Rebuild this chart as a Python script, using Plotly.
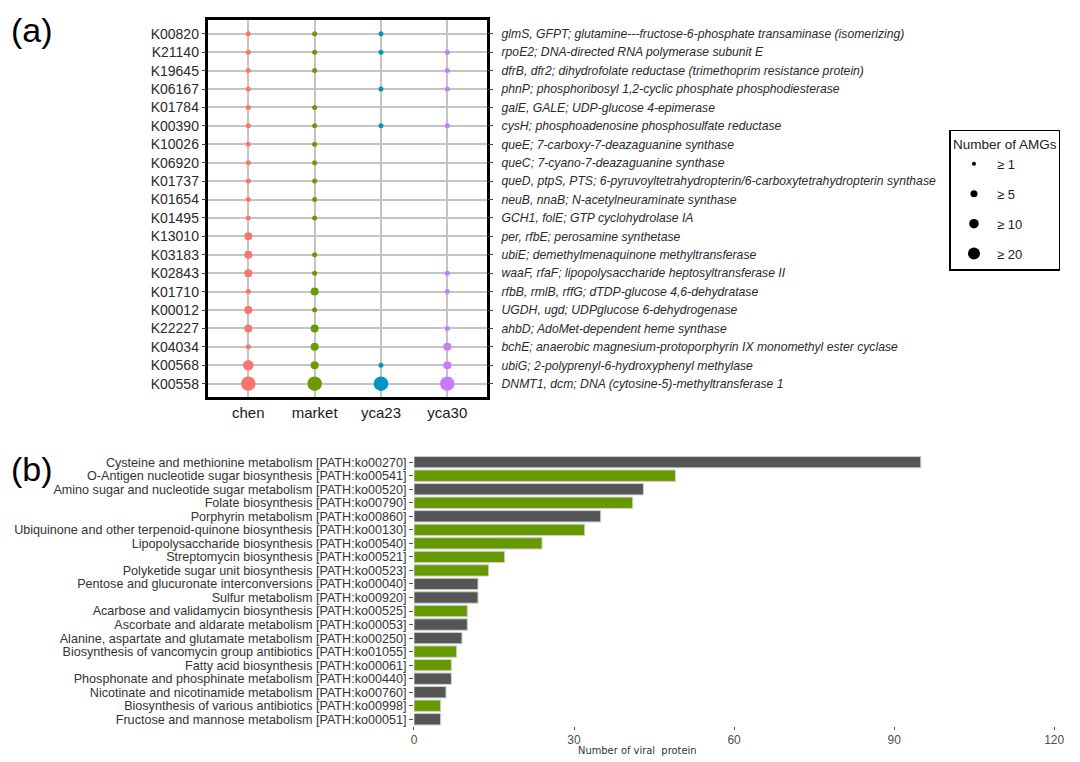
import plotly.graph_objects as go

# ---------------- Panel (a) data ----------------
kos = ["K00820", "K21140", "K19645", "K06167", "K01784", "K00390", "K10026", "K06920",
       "K01737", "K01654", "K01495", "K13010", "K03183", "K02843", "K01710", "K00012",
       "K22227", "K04034", "K00568", "K00558"]
descriptions = [
    "glmS, GFPT; glutamine---fructose-6-phosphate transaminase (isomerizing)",
    "rpoE2; DNA-directed RNA polymerase subunit E",
    "dfrB, dfr2; dihydrofolate reductase (trimethoprim resistance protein)",
    "phnP; phosphoribosyl 1,2-cyclic phosphate phosphodiesterase",
    "galE, GALE; UDP-glucose 4-epimerase",
    "cysH; phosphoadenosine phosphosulfate reductase",
    "queE; 7-carboxy-7-deazaguanine synthase",
    "queC; 7-cyano-7-deazaguanine synthase",
    "queD, ptpS, PTS; 6-pyruvoyltetrahydropterin/6-carboxytetrahydropterin synthase",
    "neuB, nnaB; N-acetylneuraminate synthase",
    "GCH1, folE; GTP cyclohydrolase IA",
    "per, rfbE; perosamine synthetase",
    "ubiE; demethylmenaquinone methyltransferase",
    "waaF, rfaF; lipopolysaccharide heptosyltransferase II",
    "rfbB, rmlB, rffG; dTDP-glucose 4,6-dehydratase",
    "UGDH, ugd; UDPglucose 6-dehydrogenase",
    "ahbD; AdoMet-dependent heme synthase",
    "bchE; anaerobic magnesium-protoporphyrin IX monomethyl ester cyclase",
    "ubiG; 2-polyprenyl-6-hydroxyphenyl methylase",
    "DNMT1, dcm; DNA (cytosine-5)-methyltransferase 1",
]
samples = ["chen", "market", "yca23", "yca30"]
# AMG count class per KO (0 = absent, 1 = >=1, 5 = >=5, 10 = >=10, 20 = >=20)
amg_chen   = [1, 1, 1, 1, 1, 1, 1, 1, 1, 1, 1, 5, 5, 5, 1, 5, 5, 1, 10, 20]
amg_market = [1, 1, 1, 0, 1, 1, 1, 1, 1, 1, 1, 0, 1, 1, 5, 1, 5, 5, 5, 20]
amg_yca23  = [1, 1, 0, 1, 0, 1, 0, 0, 0, 0, 0, 0, 0, 0, 0, 0, 0, 0, 1, 20]
amg_yca30  = [0, 1, 1, 1, 0, 1, 0, 0, 0, 0, 0, 0, 0, 1, 1, 0, 1, 5, 5, 20]
amg_classes = [1, 5, 10, 20]
amg_class_labels = ["\u2265 1", "\u2265 5", "\u2265 10", "\u2265 20"]

# ---------------- Panel (b) data ----------------
pathways = [
    "Cysteine and methionine metabolism [PATH:ko00270]",
    "O-Antigen nucleotide sugar biosynthesis [PATH:ko00541]",
    "Amino sugar and nucleotide sugar metabolism [PATH:ko00520]",
    "Folate biosynthesis [PATH:ko00790]",
    "Porphyrin metabolism [PATH:ko00860]",
    "Ubiquinone and other terpenoid-quinone biosynthesis [PATH:ko00130]",
    "Lipopolysaccharide biosynthesis [PATH:ko00540]",
    "Streptomycin biosynthesis [PATH:ko00521]",
    "Polyketide sugar unit biosynthesis [PATH:ko00523]",
    "Pentose and glucuronate interconversions [PATH:ko00040]",
    "Sulfur metabolism [PATH:ko00920]",
    "Acarbose and validamycin biosynthesis [PATH:ko00525]",
    "Ascorbate and aldarate metabolism [PATH:ko00053]",
    "Alanine, aspartate and glutamate metabolism [PATH:ko00250]",
    "Biosynthesis of vancomycin group antibiotics [PATH:ko01055]",
    "Fatty acid biosynthesis [PATH:ko00061]",
    "Phosphonate and phosphinate metabolism [PATH:ko00440]",
    "Nicotinate and nicotinamide metabolism [PATH:ko00760]",
    "Biosynthesis of various antibiotics [PATH:ko00998]",
    "Fructose and mannose metabolism [PATH:ko00051]",
]
viral_protein_counts = [95, 49, 43, 41, 35, 32, 24, 17, 14, 12, 12, 10, 10, 9, 8, 7, 7, 6, 5, 5]
highlighted = [False, True, False, True, False, True, True, True, True, False,
               False, True, False, False, True, True, False, False, True, False]
x_ticks_b = [0, 30, 60, 90, 120]

# ---------------- Styles ----------------
W, H = 1080, 762
FONT = "Liberation Sans, Arial, sans-serif"
NARROW = "Liberation Sans Narrow, DejaVu Sans Condensed, Roboto Condensed, " + FONT
sample_colors = {"chen": "#F8766D", "market": "#6B9A00", "yca23": "#0095C4", "yca30": "#C77CFF"}
size_map = {1: 5, 5: 8, 10: 10.5, 20: 14.5}
legend_size_map = {1: 4, 5: 7, 10: 9.5, 20: 12}
BAR_GREEN = "#669900"
BAR_GREY = "#555555"

def px_x(v):
    return v / W

def px_y(v):
    return 1 - v / H

fig = go.Figure()

amg_by_sample = {"chen": amg_chen, "market": amg_market, "yca23": amg_yca23, "yca30": amg_yca30}
row_idx = list(range(len(kos)))
for s in samples:
    vals = amg_by_sample[s]
    xs = [s for v in vals if v > 0]
    ys = [i for i, v in zip(row_idx, vals) if v > 0]
    sz = [size_map[v] for v in vals if v > 0]
    fig.add_trace(go.Scatter(
        x=xs, y=ys, mode="markers", xaxis="x", yaxis="y",
        marker=dict(size=sz, color=sample_colors[s], opacity=1, line=dict(width=0)),
        showlegend=False, name=s, hoverinfo="x+y",
    ))

# invisible helper trace on the right-hand description axis
fig.add_trace(go.Scatter(
    x=[samples[0]] * len(kos), y=row_idx, xaxis="x", yaxis="y3", mode="markers",
    marker=dict(opacity=0, size=1), showlegend=False, hoverinfo="skip",
))

# size legend
for c, lab in zip(amg_classes, amg_class_labels):
    fig.add_trace(go.Scatter(
        x=[None], y=[None], mode="markers", xaxis="x", yaxis="y",
        marker=dict(size=legend_size_map[c], color="black", opacity=1),
        name=lab, legendgroup=lab, showlegend=True,
    ))

# panel (b) bars
fig.add_trace(go.Bar(
    x=viral_protein_counts, y=pathways, orientation="h", xaxis="x2", yaxis="y2",
    marker=dict(color=[BAR_GREEN if h else BAR_GREY for h in highlighted],
                line=dict(color="#d0d0d0", width=1)),
    width=0.84, showlegend=False,
))

n = len(kos)
fig.update_layout(
    width=W, height=H, autosize=False,
    margin=dict(l=0, r=0, t=0, b=0),
    paper_bgcolor="white", plot_bgcolor="white",
    font=dict(family=FONT, color="#222222"),
    xaxis=dict(
        domain=[px_x(208), px_x(490)], anchor="y",
        type="category", categoryorder="array", categoryarray=samples,
        range=[-0.6, 3.6],
        showgrid=True, gridcolor="#c4c4c4", gridwidth=1.5,
        showline=True, mirror=True, linecolor="black", linewidth=2.5,
        ticks="", tickfont=dict(size=15, color="#1a1a1a", family=FONT),
        zeroline=False,
    ),
    yaxis=dict(
        domain=[px_y(398), px_y(20)], anchor="x",
        range=[n - 0.25, -0.75],
        tickmode="array", tickvals=row_idx, ticktext=kos,
        showgrid=True, gridcolor="#c4c4c4", gridwidth=1.5,
        showline=True, mirror=True, linecolor="black", linewidth=2.5,
        ticks="outside", ticklen=4, tickcolor="#444444",
        tickfont=dict(size=14, color="#2a2a2a", family=FONT),
        zeroline=False,
    ),
    yaxis3=dict(
        overlaying="y", side="right", anchor="x",
        range=[n - 0.25, -0.75],
        tickmode="array", tickvals=row_idx,
        ticktext=["<i>" + d + "</i>" for d in descriptions],
        showgrid=False, showline=False, zeroline=False,
        ticks="outside", ticklen=5, tickcolor="#444444", ticklabelstandoff=6,
        tickfont=dict(size=12.2, color="#2a2a2a", family=FONT),
    ),
    xaxis2=dict(
        domain=[px_x(416), px_x(1064)], anchor="y2",
        range=[0, 120], tickmode="array", tickvals=x_ticks_b,
        showgrid=False, zeroline=False, showline=False,
        ticks="outside", ticklen=3, tickcolor="#555555",
        tickfont=dict(size=12, color="#4d4d4d", family=FONT),
    ),
    yaxis2=dict(
        domain=[px_y(727), px_y(456)], anchor="x2",
        type="category", categoryorder="array", categoryarray=pathways,
        tickmode="array", tickvals=pathways, ticktext=pathways,
        autorange="reversed",
        showgrid=False, zeroline=False, showline=False,
        ticks="outside", ticklen=4, tickcolor="#555555",
        tickfont=dict(size=12.6, color="#333333", family=FONT),
    ),
    legend=dict(
        x=px_x(958), y=px_y(130), xanchor="left", yanchor="top",
        bordercolor="black", borderwidth=1.5, bgcolor="white",
        itemsizing="trace", tracegroupgap=10, itemwidth=36,
        title=dict(text="Number of AMGs", font=dict(size=13.5, family=FONT, color="#222")),
        font=dict(size=13, family=FONT, color="#222"),
    ),
    annotations=[
        dict(text="(a)", x=px_x(6), y=px_y(30), xref="paper", yref="paper",
             xanchor="left", yanchor="middle", showarrow=False,
             font=dict(size=34, family=FONT, color="black")),
        dict(text="(b)", x=px_x(6), y=px_y(470), xref="paper", yref="paper",
             xanchor="left", yanchor="middle", showarrow=False,
             font=dict(size=34, family=FONT, color="black")),
        dict(text="Number of viral  protein", x=px_x(642), y=px_y(751), xref="paper", yref="paper",
             xanchor="center", yanchor="middle", showarrow=False,
             font=dict(size=11, family=NARROW, color="#333333")),
    ],
)

fig.write_html(
    "out.html",
    config={"displayModeBar": False},
    post_script=("document.documentElement.style.overflow='hidden';"
                 "document.body.style.overflow='hidden';"
                 "document.body.style.margin='0';document.body.style.padding='0';"),
)
